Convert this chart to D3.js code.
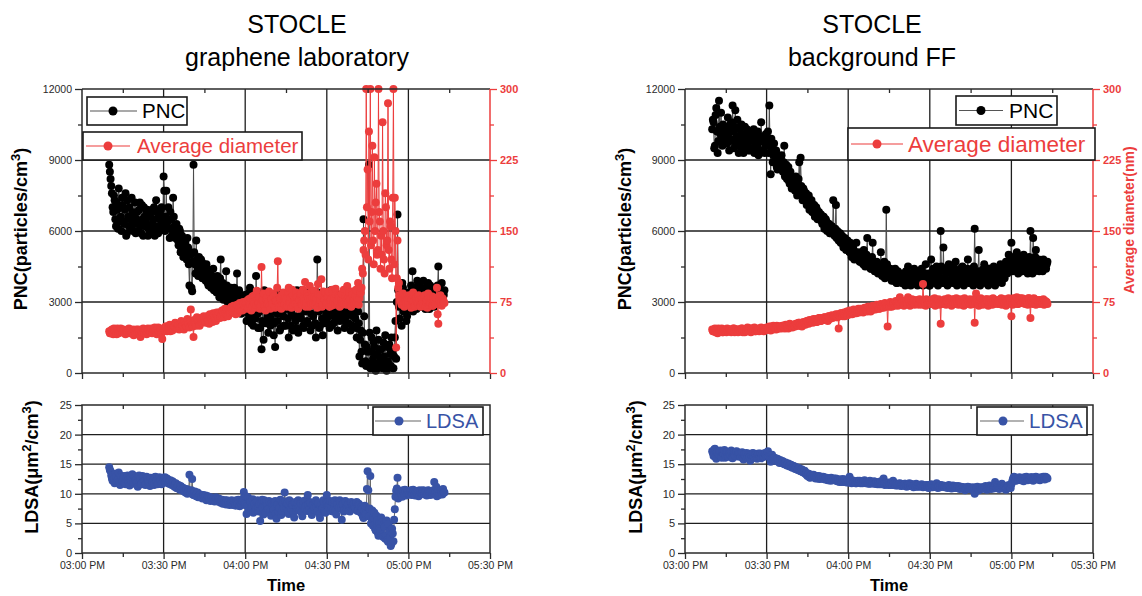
<!DOCTYPE html>
<html>
<head>
<meta charset="utf-8">
<script src="https://cdn.jsdelivr.net/npm/d3@7"></script>
<style>
  body { margin: 0; background: #fff; }
  svg { font-family: Arial, "Liberation Sans", sans-serif; }
</style>
</head>
<body>
<svg id="chart" width="1142" height="596"></svg>
<script>
// two interleaved reading streams: "A" every 30 s from 15:10:00, "B" every 30 s from 15:10:15
const startClockA = "15:10:00";
const startClockB = "15:10:15";
const stepSec = 30;

// graphene laboratory - PNC (particles/cm3)
const labPnc = [
  8800, 8200, 7600, 6800, 7300, 6200, 6900, 7800, 6400, 6000,
  7100, 6300, 7600, 5900, 6600, 7000, 6100, 6800, 6300, 7200,
  6500, 6000, 6900, 6200, 7100, 5800, 6600, 6400, 6900, 6100,
  6700, 5900, 6300, 7000, 6200, 6800, 5900, 6500, 6900, 6300,
  8300, 6000, 7700, 6400, 6100, 6800, 5800, 7400, 6200, 5900,
  5900, 5400, 6000, 5200, 5600, 5000, 5500, 4800, 5300, 3700,
  5000, 3450, 8800, 4600, 5600, 4400, 4900, 4200, 4700, 4300,
  4500, 3900, 4400, 3700, 4200, 3600, 4100, 3500, 3900, 3400,
  3800, 3200, 4800, 3600, 3100, 3500, 4300, 3000, 3400, 2900,
  3300, 2800, 3600, 3000, 4200, 2700, 3200, 2500, 3100, 2600,
  3000, 2200, 2900, 3400, 2400, 3100, 2000, 2800, 4100, 2500,
  3300, 1900, 1000, 2700, 3500, 2100, 2900, 1700, 3200, 2300,
  2600, 1600, 1100, 3000, 2200, 3400, 1900, 2700, 2400, 3100,
  2000, 2800, 1500, 3300, 2500, 1800, 3000, 2200, 3500, 1700,
  2900, 2300, 3200, 1900, 2600, 3400, 2100, 2800, 1800, 3100,
  2400, 3300, 1500, 4800, 2600, 2000, 3000, 1600, 2700, 3200,
  2200, 2900, 1900, 3500, 2500, 2100, 3100, 2400, 1800, 2800,
  3300, 2300, 2700, 1900, 3000, 2500, 2100, 3400, 2600, 2000,
  2800, 2300, 1500, 2600, 700, 1800, 400, 6500, 1200, 300,
  900, 8800, 200, 1500, 600, 1100, 100, 800, 1400, 300,
  1000, 200, 700, 1600, 100, 500, 1200, 300, 900, 200,
  1500, 600, 6700, 2800, 3300, 2000, 3600, 2600, 3100, 2400,
  3400, 2900, 3700, 4300, 3000, 3500, 2700, 3200, 3800, 2800,
  3300, 3900, 3000, 3600, 2900, 3400, 3700, 3100, 3500, 2800,
  3600, 3200, 4500, 3700, 3000, 3400, 3300
];
const labPncB = [
  8500, 7900, 7000, 7500, 6500, 7200, 6100, 7000, 6600, 7400,
  6400, 6900, 5800, 7300, 6200, 6500, 7400, 6000, 6700, 5900,
  6800, 6300, 7200, 5900, 6500, 7000, 6200, 6800, 5800, 6600,
  6100, 6900, 6500, 5800, 7300, 6000, 6700, 6200, 7000, 6600,
  7700, 6600, 6200, 7000, 5700, 6500, 6100, 6600, 5700, 6300,
  5600, 6100, 5100, 5800, 4900, 5400, 5100, 5700, 4600, 5100,
  3600, 4700, 5100, 4200, 4800, 4100, 4500, 4800, 4000, 4600,
  4100, 4600, 3800, 4300, 4000, 3700, 4400, 3800, 3600, 4100,
  3500, 4000, 3300, 3800, 3400, 3200, 3700, 3300, 3100, 3600,
  3000, 3400, 2700, 3200, 2900, 3500, 2600, 3000, 2800, 3300,
  2700, 3300, 2500, 3600, 2100, 2700, 3200, 2300, 3000, 1900,
  2600, 3100, 2200, 1400, 2800, 3300, 2400, 3100, 2000, 2800,
  3200, 2100, 2800, 2500, 3300, 1800, 2600, 3100, 2000, 2700,
  3100, 2300, 2700, 2000, 2900, 3300, 2400, 1900, 2800, 3200,
  2400, 3500, 2000, 2700, 3000, 2200, 2900, 3300, 2500, 2000,
  3000, 2100, 2800, 3400, 1900, 2900, 2300, 3400, 2100, 2500,
  3000, 2400, 3300, 2000, 2800, 3200, 2300, 2700, 3300, 2200,
  2600, 3100, 2200, 3300, 2400, 2800, 3200, 1800, 2900, 2400,
  3100, 1900, 2700, 2100, 1400, 900, 1700, 2400, 500, 1100,
  400, 1700, 900, 300, 1300, 400, 1800, 200, 1000, 600,
  300, 1300, 500, 200, 1100, 300, 800, 1500, 200, 700,
  2200, 3000, 3500, 2300, 2900, 3800, 2600, 3300, 2200, 3100,
  2700, 3300, 3100, 2600, 3600, 3100, 3900, 2900, 3300, 3600,
  3000, 3500, 2700, 3200, 3800, 2700, 3200, 3600, 2900, 3300,
  3100, 3700, 2900, 3500, 3800, 3100, 3500
];

// graphene laboratory - average diameter (nm)
const labDia = [
  44, 42, 46, 41, 45, 43, 47, 42, 44, 46,
  43, 45, 41, 44, 46, 42, 45, 43, 40, 44,
  46, 43, 45, 38, 44, 47, 42, 45, 43, 46,
  44, 47, 43, 46, 45, 41, 48, 44, 46, 36,
  47, 45, 49, 46, 48, 44, 50, 47, 49, 52,
  48, 51, 47, 55, 50, 46, 52, 49, 53, 48,
  67, 51, 38, 54, 50, 56, 52, 58, 53, 55,
  57, 53, 60, 55, 62, 58, 54, 61, 57, 64,
  59, 63, 60, 66, 62, 68, 64, 61, 67, 63,
  70, 65, 68, 62, 72, 67, 74, 69, 66, 73,
  71, 76, 68, 74, 79, 70, 75, 82, 72, 77,
  74, 68, 112, 78, 72, 66, 80, 75, 71, 77,
  73, 81, 69, 76, 118, 70, 79, 74, 85, 72,
  78, 71, 90, 75, 69, 82, 76, 73, 80, 68,
  77, 84, 72, 79, 96, 74, 81, 70, 78, 86,
  73, 80, 75, 69, 83, 77, 99, 72, 79, 85,
  74, 81, 70, 78, 88, 75, 72, 82, 76, 79,
  71, 84, 77, 73, 80, 92, 75, 78, 70, 83,
  76, 81, 74, 95, 79, 85, 110, 130, 150, 300,
  215, 255, 300, 170, 140, 228, 180, 125, 300, 160,
  145, 265, 120, 190, 135, 285, 110, 155, 100, 300,
  185, 27, 140, 95, 78, 72, 84, 70, 76, 81,
  74, 79, 69, 83, 75, 71, 80, 73, 77, 70,
  78, 72, 82, 75, 69, 79, 74, 81, 71, 76,
  73, 90, 52, 77, 74, 79, 75
];
const labDiaB = [
  42, 45, 43, 47, 44, 41, 45, 44, 47, 43,
  46, 42, 45, 43, 47, 44, 42, 46, 45, 42,
  43, 46, 42, 45, 43, 44, 46, 41, 47, 44,
  46, 42, 45, 48, 43, 46, 44, 47, 42, 45,
  45, 49, 44, 47, 51, 46, 45, 49, 53, 47,
  50, 46, 53, 49, 47, 54, 50, 57, 51, 55,
  53, 49, 56, 52, 59, 54, 50, 57, 55, 60,
  54, 59, 56, 52, 60, 57, 63, 58, 55, 61,
  64, 58, 62, 65, 59, 63, 67, 60, 65, 69,
  64, 71, 66, 69, 63, 70, 66, 72, 75, 68,
  74, 69, 78, 72, 66, 81, 73, 69, 87, 74,
  80, 71, 76, 84, 70, 78, 73, 86, 68, 79,
  84, 70, 77, 90, 72, 80, 68, 83, 75, 79,
  70, 86, 74, 80, 88, 72, 79, 85, 71, 77,
  82, 73, 88, 76, 70, 84, 78, 92, 73, 80,
  87, 71, 79, 94, 74, 82, 70, 86, 77, 72,
  80, 86, 75, 71, 84, 79, 89, 73, 81, 70,
  78, 74, 88, 81, 72, 79, 85, 71, 86, 77,
  73, 88, 79, 72, 84, 90, 105, 140, 125, 175,
  120, 160, 135, 240, 115, 150, 200, 130, 170, 110,
  125, 150, 105, 175, 140, 130, 160, 120, 185, 115,
  150, 100, 90, 82, 75, 79, 73, 81, 74, 78,
  82, 72, 77, 85, 70, 79, 74, 82, 71, 78,
  74, 80, 70, 77, 84, 72, 79, 71, 80, 73,
  79, 62, 76, 82, 71, 78, 74
];

// graphene laboratory - LDSA (um2/cm3)
const labLdsa = [
  14.5, 13.8, 12.6, 13.2, 11.8, 12.9, 12.2, 13.6, 11.5, 12.8,
  12.1, 13.0, 11.6, 12.7, 12.3, 11.4, 12.9, 13.3, 12.0, 12.6,
  12.4, 11.2, 13.1, 12.5, 11.8, 12.8, 12.2, 11.6, 12.7, 12.3,
  11.3, 12.6, 12.0, 11.5, 12.9, 12.2, 11.7, 12.8, 12.4, 11.9,
  12.5, 12.8, 12.1, 12.4, 11.7, 12.3, 11.5, 12.0, 11.2, 11.8,
  11.0, 11.5, 10.7, 11.2, 10.5, 10.9, 10.2, 10.8, 10.4, 13.2,
  10.1, 12.5, 9.8, 10.4, 9.6, 10.2, 9.5, 9.9, 9.4, 9.8,
  9.3, 9.7, 9.1, 9.5, 9.0, 9.4, 8.9, 9.3, 8.8, 9.2,
  8.7, 9.1, 8.5, 9.0, 8.4, 8.9, 8.2, 8.8, 8.6, 8.3,
  8.9, 8.1, 8.7, 8.0, 8.6, 9.0, 7.9, 8.5, 8.8, 10.3,
  8.2, 6.6, 9.4, 7.2, 8.6, 7.8, 6.8, 8.3, 7.5, 8.9,
  7.0, 5.4, 8.4, 7.6, 8.9, 6.9, 8.1, 7.4, 8.6, 6.3,
  8.0, 7.3, 8.8, 5.8, 8.2, 7.6, 9.0, 7.1, 8.5, 10.2,
  7.8, 8.4, 6.6, 8.7, 7.4, 8.1, 6.0, 8.6, 7.7, 8.9,
  7.2, 8.3, 6.2, 8.8, 7.6, 8.0, 9.8, 7.3, 8.5, 6.4,
  8.1, 7.7, 8.9, 7.0, 8.4, 5.9, 8.2, 7.5, 8.7, 6.8,
  9.8, 7.9, 8.3, 7.1, 8.6, 7.4, 8.9, 6.5, 8.1, 7.6,
  8.5, 5.6, 8.2, 7.3, 8.7, 7.8, 8.4, 7.0, 8.6, 7.9,
  8.3, 7.6, 8.6, 7.2, 8.1, 6.8, 7.4, 5.9, 8.0, 6.5,
  13.8, 6.2, 13.0, 5.8, 4.6, 6.8, 3.8, 5.5, 2.9, 4.2,
  6.0, 3.1, 4.8, 2.4, 5.5, 1.9, 3.6, 1.2, 4.1, 2.0,
  7.4, 10.5, 12.7, 9.6, 10.2, 9.8, 10.6, 9.9, 10.4, 10.1,
  10.3, 9.9, 10.6, 10.0, 10.4, 9.7, 10.2, 10.5, 9.8, 10.3,
  10.1, 10.6, 9.9, 10.4, 10.0, 10.5, 9.8, 10.3, 10.2, 12.0,
  10.4, 9.6, 10.7, 10.1, 10.5, 9.9, 10.3
];
const labLdsaB = [
  14.0, 13.1, 12.2, 12.5, 13.4, 11.9, 12.4, 12.0, 13.1, 12.2,
  12.7, 11.8, 12.4, 13.1, 11.9, 12.6, 12.1, 11.7, 13.0, 12.3,
  11.9, 12.8, 12.0, 11.6, 13.0, 12.1, 11.5, 12.9, 12.0, 11.8,
  12.7, 11.9, 12.5, 12.8, 12.1, 11.6, 12.6, 12.2, 11.6, 12.7,
  12.1, 11.9, 12.6, 11.8, 12.2, 11.6, 12.1, 11.4, 11.7, 11.0,
  11.4, 10.8, 11.3, 10.6, 11.0, 10.4, 10.7, 10.0, 10.6, 10.3,
  10.6, 9.9, 10.3, 9.7, 10.1, 9.4, 9.8, 9.6, 9.2, 9.7,
  9.5, 8.9, 9.6, 9.2, 8.8, 9.3, 9.0, 8.7, 9.4, 8.9,
  9.2, 8.6, 8.9, 8.3, 8.8, 8.5, 8.9, 8.4, 8.1, 8.7,
  8.4, 8.8, 8.2, 8.9, 8.3, 8.4, 8.7, 8.1, 9.2, 8.4,
  9.6, 7.9, 7.0, 8.8, 7.4, 9.1, 8.2, 7.1, 8.7, 7.8,
  8.3, 7.2, 9.0, 6.5, 7.9, 8.6, 7.3, 8.8, 7.0, 8.4,
  7.5, 8.6, 6.7, 8.1, 7.0, 8.9, 6.4, 8.3, 7.6, 8.7,
  8.3, 7.0, 8.9, 7.5, 8.2, 6.9, 8.5, 7.2, 8.3, 7.6,
  8.6, 6.8, 8.0, 7.5, 8.9, 7.1, 8.2, 8.6, 6.9, 8.1,
  7.3, 8.6, 7.8, 8.3, 6.6, 8.0, 7.4, 8.9, 7.1, 8.5,
  8.5, 7.4, 8.8, 7.8, 7.0, 8.5, 7.2, 8.3, 7.7, 8.9,
  7.6, 8.3, 7.0, 8.8, 7.5, 8.2, 7.1, 8.5, 7.4, 8.2,
  7.8, 8.5, 7.1, 8.3, 7.0, 7.8, 6.2, 7.1, 6.6, 10.8,
  10.6, 7.5, 5.0, 7.2, 5.9, 4.1, 6.3, 3.4, 5.0, 3.7,
  5.2, 2.7, 4.4, 3.0, 2.2, 4.9, 2.6, 1.5, 3.3, 5.6,
  9.5, 10.9, 9.2, 10.4, 10.0, 9.5, 10.3, 10.7, 9.7, 10.5,
  10.0, 10.5, 9.8, 10.7, 9.9, 10.4, 10.0, 9.6, 10.6, 10.1,
  10.5, 10.0, 10.3, 9.7, 10.6, 10.2, 10.4, 9.9, 10.6, 10.0,
  11.2, 10.3, 9.8, 10.6, 10.2, 10.8, 10.2
];

// background FF - PNC (particles/cm3)
const bgPnc = [
  10300, 10600, 9600, 11200, 9300, 11500, 10100, 9800, 10500, 10000,
  10400, 9700, 10200, 9900, 10600, 11300, 9500, 11100, 10000, 9800,
  10300, 9600, 10100, 9300, 10400, 9900, 9700, 10200, 9400, 10000,
  9800, 9300, 10100, 9600, 9200, 9900, 10600, 9400, 9800, 9600,
  9900, 10200, 11300, 8400, 9500, 9200, 8900, 9400, 8600, 9000,
  8800, 9200, 8500, 9600, 8400, 8200, 8700, 8000, 8300, 7900,
  8100, 7700, 8000, 7600, 8900, 9100, 7500, 7800, 7300, 7600,
  7200, 7500, 7000, 7300, 6800, 7100, 6700, 6900, 6600, 6500,
  6700, 6300, 6600, 6200, 6400, 6100, 6300, 5900, 6200, 7300,
  5800, 7100, 6000, 5600, 5900, 5500, 5700, 5400, 5500, 5300,
  5400, 5100, 5300, 5000, 5200, 4900, 5500, 4800, 5100, 4700,
  5000, 4600, 4900, 4700, 5700, 4500, 4800, 4400, 5500, 4600,
  4300, 4700, 4200, 4500, 5100, 4100, 4400, 4000, 6900, 4300,
  4100, 4400, 3900, 4300, 4000, 4200, 3800, 4100, 3900, 4000,
  3800, 4200, 3700, 4000, 4500, 3900, 3700, 4100, 3800, 4300,
  3900, 3700, 4100, 3800, 4400, 3700, 4000, 4600, 3800, 4200,
  3700, 4800, 3900, 4100, 3800, 4500, 3700, 4300, 6000, 4000,
  5300, 3800, 4200, 3700, 4600, 3900, 4400, 3800, 4100, 4700,
  3700, 4200, 4000, 3800, 4500, 3700, 4300, 3900, 4800, 4100,
  3800, 4400, 3700, 6100, 4200, 3900, 5200, 3700, 4300, 4000,
  4600, 3800, 4200, 3700, 4400, 4000, 3800, 4500, 3700, 4300,
  4100, 3900, 4600, 3800, 4400, 4000, 4700, 4200, 5000, 4400,
  5500, 4300, 4700, 4500, 5100, 4200, 4800, 4600, 4300, 5000,
  4400, 4700, 4200, 4900, 6000, 4500, 5700, 4300, 5200, 4600,
  4800, 4400, 4600, 4300, 4700, 4500, 4600
];
const bgPncB = [
  10700, 9500, 10900, 10200, 9800, 10400, 11000, 9600, 10300, 9900,
  10100, 10800, 9400, 10500, 9800, 10200, 10400, 9600, 10700, 9300,
  9900, 10500, 9500, 10000, 9700, 10300, 9400, 10100, 9900, 9500,
  10300, 9700, 9500, 10200, 9800, 9400, 9800, 10000, 9300, 10100,
  9600, 9300, 9700, 9900, 8900, 9700, 9300, 8700, 9200, 8800,
  9100, 8600, 8900, 8300, 8800, 8500, 8100, 8500, 7800, 8200,
  7800, 8300, 7500, 8200, 7700, 7900, 7300, 7700, 7500, 7100,
  7400, 6900, 7300, 6800, 7100, 6600, 7000, 6500, 6800, 6700,
  6400, 6600, 6100, 6500, 6000, 6300, 5900, 6200, 6000, 6000,
  6100, 5700, 5800, 5900, 5500, 5800, 5300, 5700, 5200, 5600,
  5200, 5500, 4900, 5300, 4800, 5100, 4900, 5000, 4700, 5000,
  4800, 5200, 4500, 5000, 4600, 4800, 4400, 4900, 4500, 4300,
  4600, 4400, 4600, 4200, 4500, 4300, 4700, 4100, 4600, 4200,
  4300, 4000, 4200, 3900, 4400, 3800, 4300, 3900, 4200, 3800,
  4100, 3900, 4300, 3800, 4100, 4200, 3800, 4000, 4400, 3900,
  4200, 4000, 3800, 4300, 3900, 4200, 3800, 4100, 4000, 3700,
  4200, 3800, 4400, 3900, 4200, 3800, 4100, 3900, 4500, 3800,
  4000, 4300, 3900, 4400, 3800, 4200, 4000, 4500, 3800, 4000,
  4300, 3900, 4400, 4100, 3800, 4200, 4000, 4400, 3800, 4200,
  4100, 3900, 4500, 4000, 3800, 4300, 4000, 4200, 3900, 4400,
  3900, 4300, 4000, 4400, 3900, 4200, 4400, 4000, 4200, 3900,
  4400, 4200, 4000, 4500, 4200, 4600, 4300, 4700, 4300, 4800,
  4600, 4900, 4400, 4800, 4600, 4400, 4900, 4300, 4700, 4500,
  4800, 4300, 4600, 4400, 4800, 4200, 4700, 4900, 4400, 4700,
  4300, 4700, 4400, 4800, 4500, 4400, 4700
];

// background FF - average diameter (nm)
const bgDia = [
  46, 44, 47, 45, 42, 46, 44, 47, 43, 45,
  45, 47, 44, 46, 43, 45, 47, 44, 46, 43,
  46, 44, 47, 45, 43, 46, 48, 44, 45, 47,
  45, 48, 44, 46, 47, 45, 48, 46, 44, 47,
  48, 46, 49, 45, 47, 50, 48, 46, 49, 47,
  49, 47, 50, 48, 51, 49, 47, 52, 50, 48,
  51, 49, 52, 50, 53, 51, 49, 54, 52, 53,
  55, 52, 54, 56, 53, 55, 57, 54, 56, 58,
  55, 58, 56, 59, 57, 55, 60, 58, 61, 59,
  60, 62, 59, 47, 61, 63, 60, 64, 62, 65,
  63, 66, 64, 62, 67, 65, 63, 66, 64, 68,
  66, 64, 69, 67, 65, 70, 68, 66, 71, 69,
  67, 72, 70, 68, 73, 71, 69, 74, 70, 49,
  72, 75, 70, 73, 71, 76, 74, 72, 80, 73,
  75, 71, 74, 77, 80, 76, 73, 78, 75, 72,
  74, 77, 72, 76, 73, 94, 75, 71, 77, 74,
  76, 73, 78, 74, 71, 77, 75, 72, 52, 76,
  74, 78, 72, 76, 73, 77, 71, 75, 78, 73,
  76, 72, 77, 74, 78, 71, 75, 73, 77, 74,
  72, 76, 73, 53, 84, 75, 71, 77, 74, 72,
  76, 73, 78, 71, 75, 77, 72, 76, 74, 74,
  73, 77, 74, 72, 78, 75, 71, 76, 79, 74,
  60, 72, 78, 75, 80, 73, 76, 74, 79, 75,
  73, 77, 72, 79, 58, 76, 74, 78, 72, 76,
  75, 73, 77, 74, 72, 76, 75
];
const bgDiaB = [
  44, 46, 43, 45, 47, 44, 46, 43, 46, 44,
  43, 45, 46, 44, 45, 47, 43, 46, 44, 46,
  45, 47, 43, 46, 45, 44, 46, 47, 43, 46,
  47, 44, 46, 45, 44, 47, 45, 47, 45, 46,
  46, 48, 47, 49, 46, 48, 47, 50, 47, 49,
  48, 50, 49, 47, 50, 48, 51, 49, 51, 50,
  50, 52, 51, 53, 50, 52, 51, 53, 51, 55,
  53, 56, 55, 54, 57, 55, 54, 56, 58, 55,
  57, 56, 59, 57, 58, 60, 57, 59, 58, 60,
  61, 59, 62, 60, 63, 61, 62, 60, 64, 61,
  65, 62, 64, 66, 63, 66, 64, 68, 65, 66,
  67, 65, 68, 66, 70, 67, 65, 69, 67, 70,
  69, 70, 68, 71, 69, 72, 70, 72, 71, 73,
  70, 73, 72, 74, 72, 73, 71, 75, 73, 76,
  72, 76, 75, 73, 77, 71, 76, 74, 77, 73,
  76, 73, 78, 75, 72, 77, 74, 78, 73, 76,
  73, 77, 75, 79, 73, 76, 78, 74, 76, 73,
  77, 73, 76, 79, 74, 75, 78, 73, 76, 79,
  73, 78, 75, 72, 76, 79, 73, 77, 75, 78,
  75, 73, 78, 75, 77, 73, 76, 79, 73, 77,
  74, 78, 75, 73, 78, 74, 79, 73, 77, 75,
  76, 73, 79, 75, 74, 78, 76, 73, 77, 76,
  74, 79, 75, 78, 73, 77, 79, 74, 76, 78,
  76, 74, 79, 75, 77, 73, 79, 75, 77, 74,
  77, 76, 74, 78, 76, 74, 73
];

// background FF - LDSA (um2/cm3)
const bgLdsa = [
  17.2, 16.4, 17.6, 15.9, 17.0, 16.6, 17.3, 16.1, 16.9, 17.4,
  16.5, 17.1, 16.3, 16.8, 17.3, 16.0, 16.9, 16.4, 17.2, 16.6,
  16.8, 16.2, 17.0, 15.8, 16.6, 16.9, 16.3, 16.7, 15.6, 16.5,
  16.9, 16.1, 16.6, 15.9, 16.8, 16.4, 16.0, 16.7, 16.3, 16.9,
  16.5, 17.2, 16.2, 15.4, 16.6, 15.9, 16.1, 15.6, 15.9, 15.4,
  15.7, 15.2, 15.5, 15.0, 15.3, 14.8, 15.1, 14.6, 14.9, 14.4,
  14.7, 14.2, 14.5, 14.0, 14.3, 13.8, 14.1, 13.6, 13.9, 13.3,
  13.0, 13.4, 12.7, 13.2, 12.9, 13.1, 12.6, 13.0, 12.8, 12.5,
  12.9, 12.6, 12.8, 12.4, 12.7, 12.3, 12.6, 12.2, 12.5, 12.4,
  12.3, 12.6, 12.1, 12.4, 12.2, 12.0, 12.5, 12.1, 12.3, 11.9,
  12.2, 12.9, 12.0, 12.3, 11.9, 12.1, 11.8, 12.2, 12.0, 11.8,
  12.1, 11.9, 12.3, 11.8, 12.0, 11.7, 12.2, 11.9, 11.8, 12.1,
  11.7, 12.0, 11.8, 11.6, 12.1, 11.9, 12.6, 11.5, 11.8, 11.6,
  11.9, 11.5, 11.8, 12.2, 11.6, 11.4, 11.7, 11.5, 11.8, 11.3,
  11.6, 11.4, 11.7, 11.2, 11.5, 11.8, 11.3, 11.6, 11.1, 11.4,
  11.7, 11.2, 11.5, 11.3, 11.6, 11.1, 11.4, 11.2, 11.5, 11.0,
  11.3, 11.6, 11.1, 11.4, 11.2, 11.8, 11.0, 11.3, 11.5, 11.2,
  11.4, 11.1, 11.3, 11.0, 11.5, 11.2, 10.9, 11.4, 11.1, 11.3,
  11.0, 11.3, 10.8, 11.2, 10.9, 11.1, 10.6, 11.0, 11.2, 10.8,
  11.1, 10.7, 11.0, 10.0, 10.9, 11.2, 10.6, 11.0, 10.8, 11.1,
  10.9, 11.3, 10.7, 11.0, 11.4, 10.8, 11.2, 10.9, 12.0, 11.1,
  11.4, 10.8, 11.2, 11.7, 10.9, 11.3, 10.7, 11.0, 11.5, 11.2,
  11.6, 12.4, 12.9, 12.2, 12.7, 12.4, 12.8, 12.3, 12.6, 12.1,
  12.5, 12.9, 12.3, 12.7, 12.4, 12.8, 12.2, 12.6, 12.9, 12.4,
  12.7, 12.3, 12.8, 12.5, 12.6, 12.9, 12.7
];
const bgLdsaB = [
  16.9, 17.5, 16.2, 17.1, 16.5, 17.2, 16.3, 17.0, 16.7, 16.1,
  17.0, 16.3, 16.9, 16.5, 16.1, 17.0, 16.6, 17.1, 16.3, 16.9,
  16.4, 16.9, 16.1, 16.7, 16.3, 16.0, 16.8, 16.2, 16.6, 16.8,
  16.3, 16.7, 16.2, 16.6, 16.1, 16.8, 16.5, 16.2, 16.8, 16.4,
  16.8, 16.4, 16.0, 15.9, 16.1, 15.7, 15.8, 15.5, 15.6, 15.2,
  15.4, 15.5, 15.1, 15.2, 14.9, 15.0, 14.7, 14.9, 14.5, 14.7,
  14.4, 14.5, 14.1, 14.3, 13.9, 14.1, 13.7, 13.7, 13.4, 13.5,
  13.3, 12.8, 13.1, 12.9, 13.2, 12.7, 12.9, 12.6, 13.0, 12.7,
  12.6, 12.9, 12.5, 12.7, 12.4, 12.6, 12.4, 12.7, 12.3, 12.6,
  12.5, 12.2, 12.4, 12.0, 12.4, 12.2, 12.0, 12.4, 12.0, 12.2,
  11.9, 12.2, 11.8, 12.1, 12.0, 11.8, 12.1, 11.9, 12.2, 11.9,
  11.8, 12.1, 11.9, 12.0, 11.8, 12.0, 11.7, 12.0, 11.9, 11.7,
  11.9, 11.6, 11.9, 11.8, 11.6, 11.8, 11.6, 11.9, 11.7, 11.5,
  11.6, 11.8, 11.5, 11.7, 11.5, 11.7, 11.4, 11.7, 11.4, 11.6,
  11.4, 11.7, 11.3, 11.5, 11.3, 11.5, 11.6, 11.3, 11.5, 11.2,
  11.4, 11.5, 11.2, 11.4, 11.3, 11.3, 11.2, 11.5, 11.2, 11.3,
  11.1, 11.4, 11.3, 11.2, 11.5, 11.1, 11.3, 11.1, 11.4, 11.3,
  11.2, 11.3, 11.1, 11.3, 11.2, 11.0, 11.2, 11.2, 11.0, 11.1,
  11.2, 11.0, 11.1, 10.9, 11.1, 10.9, 10.9, 11.1, 10.9, 11.0,
  10.9, 10.8, 11.1, 10.4, 11.0, 10.9, 10.8, 11.1, 10.9, 11.0,
  11.1, 10.9, 11.1, 11.2, 11.0, 11.1, 11.0, 11.3, 11.5, 11.0,
  11.1, 11.0, 11.4, 11.2, 11.1, 11.0, 10.9, 11.2, 11.2, 11.0,
  12.0, 12.7, 12.5, 12.6, 12.3, 12.7, 12.4, 12.6, 12.3, 12.8,
  12.7, 12.6, 12.5, 12.5, 12.8, 12.4, 12.6, 12.8, 12.5, 12.7,
  12.5, 12.6, 12.5, 12.9, 12.4, 12.8, 12.6
];

// axis ticks
const timeTicks = ["15:00", "15:30", "16:00", "16:30", "17:00", "17:30"];
const timeMinor = ["15:15", "15:45", "16:15", "16:45", "17:15"];
const pncTicks = [0, 3000, 6000, 9000, 12000];
const pncMinor = [1500, 4500, 7500, 10500];
const diaTicks = [0, 75, 150, 225, 300];
const diaMinor = [37.5, 112.5, 187.5, 262.5];
const ldsaTicks = [0, 5, 10, 15, 20, 25];
const ldsaMinor = [2.5, 7.5, 12.5, 17.5, 22.5];

const RED = "#ec3d3d", BLUE = "#3853a6", AXC = "#2a2a2a";

const parseHM = d3.timeParse("%H:%M");
const parseHMS = d3.timeParse("%H:%M:%S");
const tA = parseHMS(startClockA), tB = parseHMS(startClockB);
const fmtTime = d3.timeFormat("%I:%M %p");

// merge the two streams into one time-ordered series
function merge(a, b) {
  const out = [];
  a.forEach((v, i) => {
    out.push({ t: new Date(+tA + i * stepSec * 1000), v });
    if (i < b.length) out.push({ t: new Date(+tB + i * stepSec * 1000), v: b[i] });
  });
  return out;
}

const svg = d3.select("#chart");

const panels = [
  {
    x0: 82, x1: 490, titleX: 297, sub: "graphene laboratory",
    pnc: merge(labPnc, labPncB), dia: merge(labDia, labDiaB), ldsa: merge(labLdsa, labLdsaB),
    diaLabel: false,
    pncLeg: { x: 87, y: 97, w: 100, h: 28, l1: 90, l2: 137, dot: 113, tx: 142, fs: 20.5 },
    avgLeg: { x: 83, y: 132, w: 219, h: 28, l1: 86, l2: 130, dot: 108, tx: 137, fs: 20.5 },
    ldsaLeg: { x: 373, y: 407, w: 110, h: 28, l1: 375, l2: 421, dot: 399, tx: 426, fs: 20 },
    pncLabX: 27, ldsaLabX: 38
  },
  {
    x0: 685, x1: 1093, titleX: 872, sub: "background FF",
    pnc: merge(bgPnc, bgPncB), dia: merge(bgDia, bgDiaB), ldsa: merge(bgLdsa, bgLdsaB),
    diaLabel: true,
    pncLeg: { x: 956, y: 96, w: 101, h: 29, l1: 959, l2: 1003, dot: 981, tx: 1009, fs: 21 },
    avgLeg: { x: 848, y: 128, w: 247, h: 32, l1: 851, l2: 903, dot: 877, tx: 908, fs: 22.5 },
    ldsaLeg: { x: 977, y: 407, w: 110, h: 28, l1: 980, l2: 1024, dot: 1003, tx: 1029, fs: 20.5 },
    pncLabX: 631, ldsaLabX: 642
  }
];

function styleAxis(g, color, fs, bold) {
  g.select(".domain").remove();
  g.selectAll("line").attr("stroke", color).attr("stroke-width", 1.3);
  g.selectAll("text").attr("fill", color).attr("font-size", fs)
    .attr("font-weight", bold ? "bold" : "normal")
    .attr("font-family", "Arial, 'Liberation Sans', sans-serif");
}

function drawSeries(g, data, x, y, fill, lineColor) {
  const line = d3.line().x(d => x(d.t)).y(d => y(d.v));
  g.append("path").datum(data).attr("fill", "none")
    .attr("stroke", lineColor).attr("stroke-width", 1).attr("d", line);
  g.selectAll(null).data(data).join("circle")
    .attr("cx", d => x(d.t)).attr("cy", d => y(d.v))
    .attr("r", 4).attr("fill", fill);
}

function legend(L, label, dotColor, lineColor, textColor) {
  const g = svg.append("g");
  g.append("rect").attr("x", L.x).attr("y", L.y).attr("width", L.w).attr("height", L.h)
    .attr("fill", "#fff").attr("stroke", "#1a1a1a").attr("stroke-width", 1.6);
  const cy = L.y + L.h / 2;
  g.append("line").attr("x1", L.l1).attr("x2", L.l2).attr("y1", cy).attr("y2", cy)
    .attr("stroke", lineColor).attr("stroke-width", 1.2);
  g.append("circle").attr("cx", L.dot).attr("cy", cy).attr("r", 4.5).attr("fill", dotColor);
  g.append("text").attr("x", L.tx).attr("y", cy + L.fs * 0.36)
    .attr("font-size", L.fs).attr("fill", textColor).text(label);
}

panels.forEach(p => {
  const x = d3.scaleTime().domain([parseHM("15:00"), parseHM("17:30")]).range([p.x0, p.x1]);
  const yP = d3.scaleLinear().domain([0, 12000]).range([373, 89]);
  const yD = d3.scaleLinear().domain([0, 300]).range([373, 89]);
  const yL = d3.scaleLinear().domain([0, 25]).range([553, 405]);
  const tMaj = timeTicks.map(parseHM), tMin = timeMinor.map(parseHM);

  // title
  svg.append("text").attr("x", p.titleX).attr("y", 33).attr("text-anchor", "middle")
    .attr("font-size", 25).text("STOCLE");
  svg.append("text").attr("x", p.titleX).attr("y", 66).attr("text-anchor", "middle")
    .attr("font-size", 25).text(p.sub);

  // ---- upper plot: PNC + average diameter
  const grid = svg.append("g").attr("stroke", "#1e1e1e").attr("stroke-width", 1.3);
  tMaj.slice(1, -1).forEach(d => grid.append("line")
    .attr("x1", x(d)).attr("x2", x(d)).attr("y1", 89).attr("y2", 373));
  pncTicks.slice(1, -1).forEach(d => grid.append("line")
    .attr("x1", p.x0).attr("x2", p.x1).attr("y1", yP(d)).attr("y2", yP(d)));

  drawSeries(svg.append("g"), p.pnc, x, yP, "#000", "#4a4a4a");
  drawSeries(svg.append("g"), p.dia, x, yD, RED, RED);

  svg.append("g").attr("transform", `translate(${p.x0},0)`)
    .call(d3.axisLeft(yP).tickValues(pncTicks).tickSize(7).tickSizeOuter(0).tickPadding(3)
      .tickFormat(d3.format("d")))
    .call(g => styleAxis(g, AXC, 10.5, false));
  svg.append("g").attr("transform", `translate(${p.x0},0)`)
    .call(d3.axisLeft(yP).tickValues(pncMinor).tickSize(4).tickFormat(""))
    .call(g => styleAxis(g, AXC, 10, false));
  svg.append("g").attr("transform", "translate(0,373)")
    .call(d3.axisBottom(x).tickValues(tMaj).tickSize(6).tickFormat(""))
    .call(g => styleAxis(g, AXC, 10, false));
  svg.append("g").attr("transform", "translate(0,373)")
    .call(d3.axisBottom(x).tickValues(tMin).tickSize(4).tickFormat(""))
    .call(g => styleAxis(g, AXC, 10, false));
  svg.append("g").attr("transform", "translate(0,89)")
    .call(d3.axisBottom(x).tickValues(tMin).tickSize(4).tickFormat(""))
    .call(g => styleAxis(g, AXC, 10, false));
  svg.append("g").attr("transform", `translate(${p.x1},0)`)
    .call(d3.axisRight(yD).tickValues(diaTicks).tickSize(7).tickSizeOuter(0).tickPadding(3))
    .call(g => styleAxis(g, RED, 11, true));
  svg.append("g").attr("transform", `translate(${p.x1},0)`)
    .call(d3.axisRight(yD).tickValues(diaMinor).tickSize(4).tickFormat(""))
    .call(g => styleAxis(g, RED, 10, false));

  const fr = svg.append("g").attr("stroke-width", 1.5);
  fr.append("line").attr("x1", p.x0).attr("x2", p.x1).attr("y1", 89).attr("y2", 89).attr("stroke", AXC);
  fr.append("line").attr("x1", p.x0).attr("x2", p.x1).attr("y1", 373).attr("y2", 373).attr("stroke", AXC);
  fr.append("line").attr("x1", p.x0).attr("x2", p.x0).attr("y1", 89).attr("y2", 373).attr("stroke", AXC);
  fr.append("line").attr("x1", p.x1).attr("x2", p.x1).attr("y1", 89).attr("y2", 373).attr("stroke", RED);

  const pl = svg.append("text").attr("transform", `translate(${p.pncLabX},229) rotate(-90)`)
    .attr("text-anchor", "middle").attr("font-size", 18).attr("font-weight", "bold");
  pl.append("tspan").text("PNC(particles/cm");
  pl.append("tspan").attr("font-size", 13).attr("dy", -7).text("3");
  pl.append("tspan").attr("dy", 7).text(")");

  if (p.diaLabel) {
    svg.append("text").attr("transform", `translate(${p.x1 + 41},220) rotate(-90)`)
      .attr("text-anchor", "middle").attr("font-size", 14).attr("font-weight", "bold")
      .attr("fill", RED).text("Average diameter(nm)");
  }

  legend(p.pncLeg, "PNC", "#000", "#555", "#000");
  legend(p.avgLeg, "Average diameter", RED, RED, RED);

  // ---- lower plot: LDSA
  const grid2 = svg.append("g").attr("stroke", "#1e1e1e").attr("stroke-width", 1.3);
  tMaj.slice(1, -1).forEach(d => grid2.append("line")
    .attr("x1", x(d)).attr("x2", x(d)).attr("y1", 405).attr("y2", 553));
  ldsaTicks.slice(1, -1).forEach(d => grid2.append("line")
    .attr("x1", p.x0).attr("x2", p.x1).attr("y1", yL(d)).attr("y2", yL(d)));

  drawSeries(svg.append("g"), p.ldsa, x, yL, BLUE, "#666");

  svg.append("g").attr("transform", `translate(${p.x0},0)`)
    .call(d3.axisLeft(yL).tickValues(ldsaTicks).tickSize(7).tickSizeOuter(0).tickPadding(3))
    .call(g => styleAxis(g, AXC, 11, false));
  svg.append("g").attr("transform", `translate(${p.x0},0)`)
    .call(d3.axisLeft(yL).tickValues(ldsaMinor).tickSize(4).tickFormat(""))
    .call(g => styleAxis(g, AXC, 10, false));
  svg.append("g").attr("transform", "translate(0,553)")
    .call(d3.axisBottom(x).tickValues(tMaj).tickSize(6).tickSizeOuter(0).tickPadding(3).tickFormat(fmtTime))
    .call(g => styleAxis(g, AXC, 10.5, false));
  svg.append("g").attr("transform", "translate(0,553)")
    .call(d3.axisBottom(x).tickValues(tMin).tickSize(4).tickFormat(""))
    .call(g => styleAxis(g, AXC, 10, false));
  svg.append("g").attr("transform", "translate(0,405)")
    .call(d3.axisBottom(x).tickValues(tMin).tickSize(4).tickFormat(""))
    .call(g => styleAxis(g, AXC, 10, false));

  const fr2 = svg.append("g").attr("stroke", AXC).attr("stroke-width", 1.5);
  fr2.append("rect").attr("x", p.x0).attr("y", 405).attr("width", p.x1 - p.x0).attr("height", 148)
    .attr("fill", "none");

  const ll = svg.append("text").attr("transform", `translate(${p.ldsaLabX},467) rotate(-90)`)
    .attr("text-anchor", "middle").attr("font-size", 18).attr("font-weight", "bold");
  ll.append("tspan").text("LDSA(\u03bcm");
  ll.append("tspan").attr("font-size", 13).attr("dy", -7).text("2");
  ll.append("tspan").attr("dy", 7).text("/cm");
  ll.append("tspan").attr("font-size", 13).attr("dy", -7).text("3");
  ll.append("tspan").attr("dy", 7).text(")");

  svg.append("text").attr("x", (p.x0 + p.x1) / 2).attr("y", 591).attr("text-anchor", "middle")
    .attr("font-size", 16.5).attr("font-weight", "bold").text("Time");

  legend(p.ldsaLeg, "LDSA", BLUE, "#666", BLUE);
});
</script>
</body>
</html>
